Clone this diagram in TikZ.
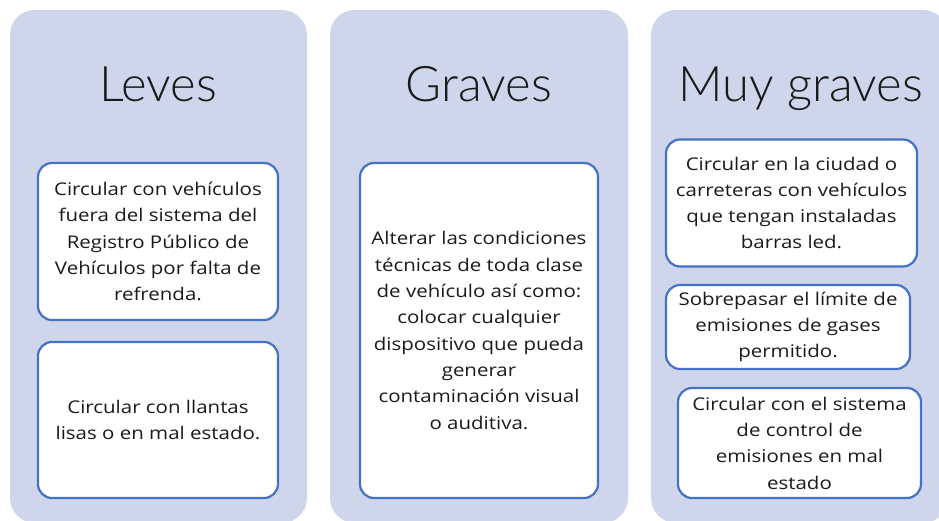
\documentclass[tikz,border=0pt]{standalone}
\usepackage{fontspec}
\setmainfont{Open Sans}[FakeStretch=1.17]
\newfontfamily\titlefont{Lato Light}
\definecolor{colbg}{HTML}{CFD5EA}
\definecolor{boxline}{HTML}{4472C4}
\definecolor{ink}{HTML}{1A1A1A}
\begin{document}
\begin{tikzpicture}[x=1pt,y=-1pt,
  column/.style={fill=colbg, rounded corners=25pt},
  card/.style={draw=boxline, line width=2.2pt, fill=white, rounded corners=14pt,
    align=center, text=ink, font=\fontsize{17.5}{26.3}\selectfont, inner sep=0pt},
  title/.style={font=\titlefont\fontsize{49}{55}\selectfont, anchor=base, text=ink, inner sep=0pt}]
\useasboundingbox (0,0) rectangle (939,521);
\begin{scope}
  \clip (0,0) rectangle (939,521);
  \fill[column] (10,10) rectangle (307,523);
  \fill[column] (330,10) rectangle (628,523);
  \fill[column] (651,10) rectangle (948,523);
\end{scope}

\node[title] (t1) at (158,102) {Leves};
\node[title] (t2) at (479,102) {Graves};
\node[title] (t3) at (801,102) {Muy graves};

\node[card, minimum width=240pt, minimum height=157pt] (l1) at (158,241.5)
  {Circular con vehículos\\fuera del sistema del\\Registro Público de\\Vehículos por falta de\\refrenda.};
\node[card, minimum width=240pt, minimum height=156pt] (l2) at (158,420)
  {Circular con llantas\\lisas o en mal estado.};

\node[card, minimum width=238pt, minimum height=335pt] (g1) at (479,330.5)
  {Alterar las condiciones\\técnicas de toda clase\\de vehículo así como:\\colocar cualquier\\dispositivo que pueda\\generar\\contaminación visual\\o auditiva.};

\node[card, minimum width=251pt, minimum height=127pt] (m1) at (791.5,203)
  {Circular en la ciudad o\\carreteras con vehículos\\que tengan instaladas\\barras led.};
\node[card, minimum width=244pt, minimum height=84pt] (m2) at (788,327)
  {Sobrepasar el límite de\\emisiones de gases\\permitido.};
\node[card, minimum width=243pt, minimum height=110pt] (m3) at (799.5,443)
  {Circular con el sistema\\de control de\\emisiones en mal\\estado};
\end{tikzpicture}
\end{document}
